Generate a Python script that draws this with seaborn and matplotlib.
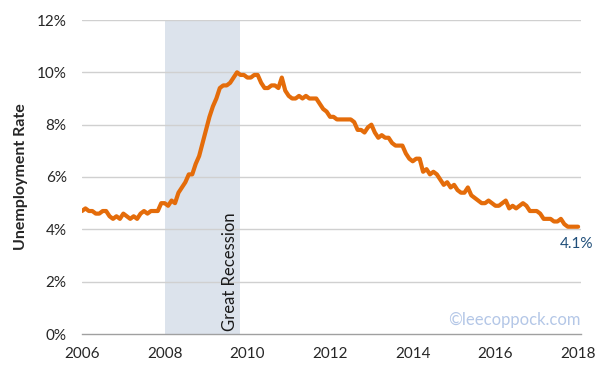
import numpy as np
import pandas as pd
import matplotlib
matplotlib.use("Agg")
import matplotlib.pyplot as plt
import seaborn as sns

years = list(range(2006, 2019))
rates = [
    # 2006
    4.7, 4.8, 4.7, 4.7, 4.6, 4.6, 4.7, 4.7, 4.5, 4.4, 4.5, 4.4,
    # 2007
    4.6, 4.5, 4.4, 4.5, 4.4, 4.6, 4.7, 4.6, 4.7, 4.7, 4.7, 5.0,
    # 2008
    5.0, 4.9, 5.1, 5.0, 5.4, 5.6, 5.8, 6.1, 6.1, 6.5, 6.8, 7.3,
    # 2009
    7.8, 8.3, 8.7, 9.0, 9.4, 9.5, 9.5, 9.6, 9.8, 10.0, 9.9, 9.9,
    # 2010
    9.8, 9.8, 9.9, 9.9, 9.6, 9.4, 9.4, 9.5, 9.5, 9.4, 9.8, 9.3,
    # 2011
    9.1, 9.0, 9.0, 9.1, 9.0, 9.1, 9.0, 9.0, 9.0, 8.8, 8.6, 8.5,
    # 2012
    8.3, 8.3, 8.2, 8.2, 8.2, 8.2, 8.2, 8.1, 7.8, 7.8, 7.7, 7.9,
    # 2013
    8.0, 7.7, 7.5, 7.6, 7.5, 7.5, 7.3, 7.2, 7.2, 7.2, 6.9, 6.7,
    # 2014
    6.6, 6.7, 6.7, 6.2, 6.3, 6.1, 6.2, 6.1, 5.9, 5.7, 5.8, 5.6,
    # 2015
    5.7, 5.5, 5.4, 5.4, 5.6, 5.3, 5.2, 5.1, 5.0, 5.0, 5.1, 5.0,
    # 2016
    4.9, 4.9, 5.0, 5.1, 4.8, 4.9, 4.8, 4.9, 5.0, 4.9, 4.7, 4.7,
    # 2017
    4.7, 4.6, 4.4, 4.4, 4.4, 4.3, 4.3, 4.4, 4.2, 4.1, 4.1, 4.1,
    # 2018
    4.1,
]
start_year = 2006
recession_start = 2008.0
recession_end = 2009.83
y_ticks = [0, 2, 4, 6, 8, 10, 12]
x_labels = [2006, 2008, 2010, 2012, 2014, 2016, 2018]

t = [start_year + i / 12 for i in range(len(rates))]
df = pd.DataFrame({"t": t, "rate": rates})

sns.set_style("white")
plt.rcParams["font.family"] = ["Lato", "DejaVu Sans"]

fig = plt.figure(figsize=(6.08, 3.67), dpi=100)
ax = fig.add_axes([82/608, 1-334/367, (581-82)/608, (334-20)/367])

ax.axvspan(recession_start, recession_end, color="#DCE3EC", zorder=0, lw=0)
for yt in y_ticks[1:]:
    ax.axhline(yt, color="#D0D0D0", lw=1, zorder=1)

sns.lineplot(data=df, x="t", y="rate", ax=ax, color="#E46C0A", lw=3.0, zorder=3)

ax.set_xlim(2006, 2018.07)
ax.set_ylim(0, 12)
ax.set_yticks(y_ticks)
ax.set_yticklabels([f"{v}%" for v in y_ticks])
ax.set_xticks(list(range(2006, 2019)))
ax.set_xticklabels([str(y) if y in x_labels else "" for y in range(2006, 2019)])
ax.tick_params(axis="x", direction="out", length=5, color="#A0A0A0", width=1, labelsize=11, pad=4)
ax.tick_params(axis="y", length=0, labelsize=11, pad=11)
for s in ["top", "right", "left"]:
    ax.spines[s].set_visible(False)
ax.spines["bottom"].set_color("#A0A0A0")
ax.spines["bottom"].set_linewidth(1)

ax.set_xlabel("")
ax.set_ylabel("Unemployment Rate", fontsize=11.5, fontweight="bold")
ax.yaxis.set_label_coords((28 - 82) / 499, 0.5)

ax.text(2009.57, 0.12, "Great Recession", rotation=90, ha="center", va="bottom",
        fontsize=12, color="#1a1a1a")
ax.text(2017.95, 3.45, f"{rates[-1]}%", ha="center", va="center", fontsize=11, color="#1F4E79")
ax.text(2018.05, 0.55, "©leecoppock.com", ha="right", va="center", fontsize=12, color="#B4C7E7")

fig.savefig("out.png", dpi=100)
